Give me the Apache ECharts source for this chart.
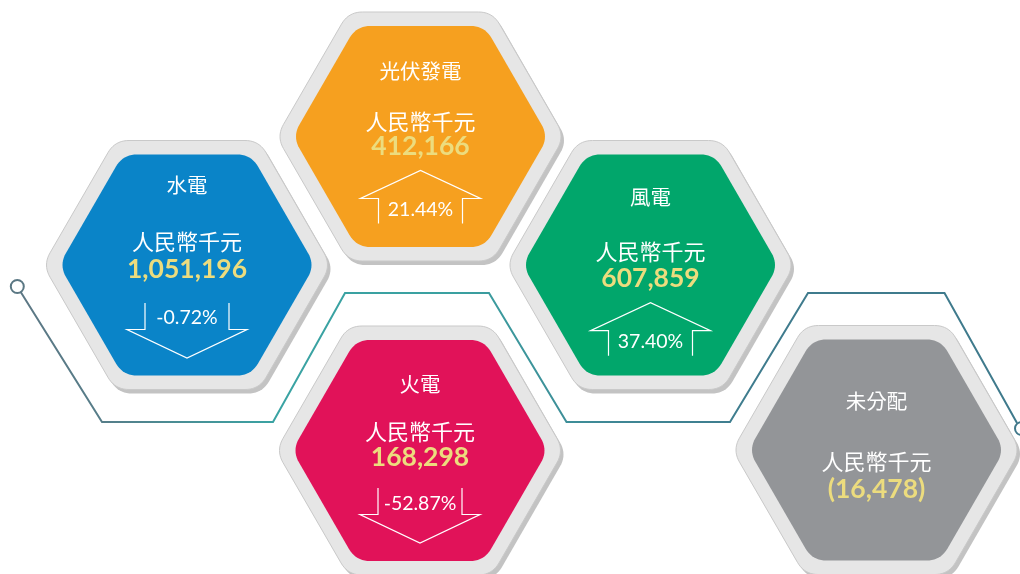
<!DOCTYPE html>
<html><head><meta charset="utf-8">
<script src="https://cdn.jsdelivr.net/npm/echarts@6/dist/echarts.min.js"></script>
<style>html,body{margin:0;padding:0;background:#fff}#c{width:1020px;height:574px}</style>
</head><body><div id="c"></div>
<script>
// ---- data ----
const categories = ['水電', '光伏發電', '風電', '火電', '未分配'];
const values = [1051196, 412166, 607859, 168298, -16478];
const changes = [-0.72, 21.44, 37.40, -52.87, null];
const unitLabel = '人民幣千元';

// ---- layout / style ----
const centers = [[187, 265], [420.5, 136.5], [650.5, 265], [420, 450.5], [876.5, 450]];
const textOffsets = [[-80, -23, 4, 53], [-65, -15, 9.5, 73], [-68, -13, 13, 77], [-66, -19, 6.5, 53], [-49, 12, 39, null]];
const arrowBase = [64.5, 62, 65.7, 64, null];
const fills = ['#0a84c8', '#f6a01f', '#01a66b', '#e11259', '#939598'];
const valueColor = '#ecdc7e';
const cjkFont = '"Noto Sans CJK TC", "Noto Sans CJK SC", sans-serif';
const numFont = 'Lato, "Open Sans", sans-serif';

function fmtValue(v) {
  const s = Math.abs(v).toLocaleString('en-US');
  return v < 0 ? '(' + s + ')' : s;
}
function fmtPct(p) { return p.toFixed(2) + '%'; }

function hexPts(cx, cy, R, h, d) {
  const V = [[cx - R, cy], [cx - R / 2, cy - h], [cx + R / 2, cy - h], [cx + R, cy], [cx + R / 2, cy + h], [cx - R / 2, cy + h]];
  const pts = [];
  for (let i = 0; i < 6; i++) {
    const p = V[(i + 5) % 6], c = V[i], n = V[(i + 1) % 6];
    const lp = Math.hypot(p[0] - c[0], p[1] - c[1]);
    const ln = Math.hypot(n[0] - c[0], n[1] - c[1]);
    const a = [c[0] + (p[0] - c[0]) * d / lp, c[1] + (p[1] - c[1]) * d / lp];
    const b = [c[0] + (n[0] - c[0]) * d / ln, c[1] + (n[1] - c[1]) * d / ln];
    for (let k = 0; k <= 10; k++) {
      const t = k / 10;
      pts.push([
        (1 - t) * (1 - t) * a[0] + 2 * (1 - t) * t * c[0] + t * t * b[0],
        (1 - t) * (1 - t) * a[1] + 2 * (1 - t) * t * c[1] + t * t * b[1]
      ]);
    }
  }
  return pts;
}

function renderItem(params, api) {
  const i = api.value(2);
  const c = api.coord([api.value(0), api.value(1)]);
  const cx = c[0], cy = c[1];
  const off = textOffsets[i];
  const children = [];
  children.push({ type: 'polygon', shape: { points: hexPts(cx + 3, cy + 4, 144, 124.5, 14) }, style: { fill: '#c3c3c3' } });
  children.push({ type: 'polygon', shape: { points: hexPts(cx, cy, 144, 124.5, 14) }, style: { fill: '#e6e6e6', stroke: '#c9c9c9', lineWidth: 1 } });
  children.push({ type: 'polygon', shape: { points: hexPts(cx, cy, 128, 110.5, 14) }, style: { fill: fills[i] } });
  children.push({ type: 'text', style: { text: categories[i], x: cx, y: cy + off[0], align: 'center', verticalAlign: 'middle', fill: '#ffffff', fontSize: 20.5, fontFamily: cjkFont } });
  children.push({ type: 'text', style: { text: unitLabel, x: cx, y: cy + off[1], align: 'center', verticalAlign: 'middle', fill: '#ffffff', fontSize: 22, fontFamily: cjkFont } });
  children.push({ type: 'text', style: { text: fmtValue(values[i]), x: cx, y: cy + off[2], align: 'center', verticalAlign: 'middle', fill: valueColor, fontSize: 26.5, fontWeight: 'bold', fontFamily: numFont } });
  const ch = changes[i];
  if (ch !== null) {
    children.push({ type: 'text', style: { text: fmtPct(ch), x: cx, y: cy + off[3], align: 'center', verticalAlign: 'middle', fill: '#ffffff', fontSize: 19.5, fontWeight: 'normal', fontFamily: numFont } });
    const hb = cy + arrowBase[i];
    let pts;
    if (ch < 0) {
      pts = [[cx - 42, hb - 26.5], [cx - 42, hb], [cx - 60, hb], [cx, hb + 28.5], [cx + 60, hb], [cx + 42, hb], [cx + 42, hb - 26.5]];
    } else {
      pts = [[cx - 42, hb + 25], [cx - 42, hb], [cx - 60, hb], [cx, hb - 28], [cx + 60, hb], [cx + 42, hb], [cx + 42, hb + 25]];
    }
    children.push({ type: 'polyline', shape: { points: pts }, style: { stroke: '#ffffff', lineWidth: 1.2, fill: null } });
  }
  return { type: 'group', children: children };
}

const linePts = [[20.7, 292], [102, 422], [273, 422], [345, 293], [489, 293], [566.5, 422], [730, 422], [808, 293], [944.5, 293], [1017, 423]];

const chart = echarts.init(document.getElementById('c'), null, { renderer: 'canvas' });
chart.setOption({
  animation: false,
  backgroundColor: '#ffffff',
  grid: { left: 0, right: 0, top: 0, bottom: 0 },
  xAxis: { type: 'value', min: 0, max: 1020, show: false },
  yAxis: { type: 'value', min: 0, max: 574, inverse: true, show: false },
  graphic: [
    {
      type: 'polyline', z: 0, shape: { points: linePts },
      style: {
        fill: null, lineWidth: 2,
        stroke: new echarts.graphic.LinearGradient(0, 0, 1020, 0, [
          { offset: 0, color: '#5e7683' }, { offset: 0.1, color: '#567d89' },
          { offset: 0.27, color: '#3aa3a3' }, { offset: 0.45, color: '#3aa0a0' },
          { offset: 0.6, color: '#3f8795' }, { offset: 0.75, color: '#3f7b8d' },
          { offset: 1, color: '#3f7a8c' }
        ], true)
      }
    },
    { type: 'circle', z: 1, shape: { cx: 17.3, cy: 286.5, r: 6.5 }, style: { fill: '#ffffff', stroke: '#5b7884', lineWidth: 2 } },
    { type: 'circle', z: 1, shape: { cx: 1021.5, cy: 428.5, r: 6.5 }, style: { fill: '#ffffff', stroke: '#41788a', lineWidth: 2 } }
  ],
  series: [{
    type: 'custom',
    clip: false,
    z: 5,
    renderItem: renderItem,
    data: categories.map((c, i) => [centers[i][0], centers[i][1], i])
  }]
});
</script>
</body></html>
